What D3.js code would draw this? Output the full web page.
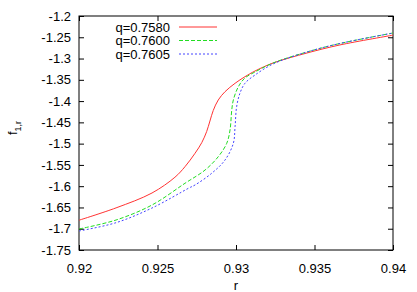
<!DOCTYPE html>
<html>
<head>
<meta charset="utf-8">
<script src="https://cdn.jsdelivr.net/npm/d3@7"></script>
<style>
body { margin: 0; background: #fff; }
text { font-family: "Liberation Sans", Arial, sans-serif; font-size: 13px; fill: #000; }
</style>
</head>
<body>
<svg id="chart" width="417" height="292"></svg>
<script>
// values
var xTicks = [0.92, 0.925, 0.93, 0.935, 0.94];
var xTickLabels = ["0.92", "0.925", "0.93", "0.935", "0.94"];
var yTicks = [-1.2, -1.25, -1.3, -1.35, -1.4, -1.45, -1.5, -1.55, -1.6, -1.65, -1.7, -1.75];
var yTickLabels = ["-1.2", "-1.25", "-1.3", "-1.35", "-1.4", "-1.45", "-1.5", "-1.55", "-1.6", "-1.65", "-1.7", "-1.75"];

var seriesNames = ["q=0.7580", "q=0.7600", "q=0.7605"];

var r7580 = [0.92, 0.92236, 0.92465, 0.92611, 0.92675, 0.92739, 0.92782, 0.92813, 0.92834, 0.92855, 0.92887, 0.9293, 0.92994, 0.93057, 0.93121, 0.93236, 0.93452, 0.93662, 0.94];
var f7580 = [-1.680, -1.651, -1.616, -1.579, -1.5542, -1.5227, -1.4976, -1.4717, -1.4468, -1.4221, -1.3974, -1.3779, -1.3582, -1.3427, -1.3293, -1.3105, -1.287, -1.268, -1.245];

var r7600 = [0.92, 0.92236, 0.92465, 0.92675, 0.92803, 0.92887, 0.92941, 0.92962, 0.92973, 0.92983, 0.93015, 0.93057, 0.93121, 0.93236, 0.93452, 0.93662, 0.94];
var f7600 = [-1.7006, -1.6795, -1.6442, -1.5932, -1.562, -1.5307, -1.4992, -1.4679, -1.4209, -1.3974, -1.3662, -1.3457, -1.3316, -1.3105, -1.2846, -1.2646, -1.24];

var r7605 = [0.92, 0.92236, 0.92465, 0.92701, 0.92739, 0.92845, 0.9293, 0.92983, 0.92994, 0.93004, 0.93025, 0.93057, 0.93121, 0.93236, 0.93452, 0.93662, 0.94];
var f7605 = [-1.7053, -1.6858, -1.6513, -1.6042, -1.5972, -1.5697, -1.5385, -1.4992, -1.4602, -1.4132, -1.3817, -1.3582, -1.3387, -1.3128, -1.2846, -1.2646, -1.24];

var svg = d3.select("#chart");
var margin = {top: 16, right: 24, bottom: 42, left: 79},
	width = 417 - margin.left - margin.right,
	height = 292 - margin.top - margin.bottom;

var x = d3.scaleLinear().domain([0.92, 0.94]).range([0, width]);
var y = d3.scaleLinear().domain([-1.75, -1.2]).range([height, 0]);

var g = svg.append("g").attr("transform", "translate(" + margin.left + "," + margin.top + ")");

// axes with inward ticks, mirrored on top and right like gnuplot
var tl = 5;
g.append("g").attr("transform", "translate(0," + height + ")")
	.call(d3.axisBottom(x).tickValues(xTicks).tickSize(-tl).tickPadding(tl + 9)
		.tickFormat(function(d, i) { return xTickLabels[i]; }));
g.append("g")
	.call(d3.axisTop(x).tickValues(xTicks).tickSize(-tl).tickFormat(""));
g.append("g")
	.call(d3.axisLeft(y).tickValues(yTicks).tickSize(-tl).tickPadding(tl + 3)
		.tickFormat(function(d, i) { return yTickLabels[i]; }));
g.append("g").attr("transform", "translate(" + width + ",0)")
	.call(d3.axisRight(y).tickValues(yTicks).tickSize(-tl).tickFormat(""));

g.selectAll(".domain").remove();
g.selectAll(".tick line").attr("stroke", "#000");
g.selectAll(".tick text").style("font-size", "13px").attr("fill", "#000");

g.append("rect").attr("width", width).attr("height", height)
	.attr("fill", "none").attr("stroke", "#000").attr("stroke-width", 1);

// axis titles
svg.append("text").attr("x", margin.left + width / 2).attr("y", 290)
	.attr("text-anchor", "middle").text("r");
var yl = svg.append("text").attr("transform", "translate(17," + (margin.top + 112) + ") rotate(-90)")
	.attr("text-anchor", "middle");
yl.append("tspan").text("f");
yl.append("tspan").attr("dy", 4).style("font-size", "9px").text("1,r");

// curves
var series = [
	{name: seriesNames[0], r: r7580, f: f7580, color: "#ff3333", dash: null},
	{name: seriesNames[1], r: r7600, f: f7600, color: "#22dd22", dash: "4,2"},
	{name: seriesNames[2], r: r7605, f: f7605, color: "#4444ff", dash: "2,2"}
];

var line = d3.line()
	.x(function(d) { return x(d[0]); })
	.y(function(d) { return y(d[1]); })
	.curve(d3.curveCatmullRom.alpha(0.5));

series.forEach(function(s, k) {
	var pts = s.r.map(function(rv, i) { return [rv, s.f[i]]; });
	g.append("path").datum(pts).attr("d", line)
		.attr("fill", "none").attr("stroke", s.color).attr("stroke-width", 1)
		.attr("stroke-dasharray", s.dash);

	var ly = 27 + k * 13.5;
	svg.append("text").attr("x", 170).attr("y", ly).attr("dy", "0.35em")
		.attr("text-anchor", "end").text(s.name);
	svg.append("line").attr("x1", 179).attr("x2", 217).attr("y1", ly).attr("y2", ly)
		.attr("stroke", s.color).attr("stroke-width", 1).attr("stroke-dasharray", s.dash);
});
</script>
</body>
</html>
